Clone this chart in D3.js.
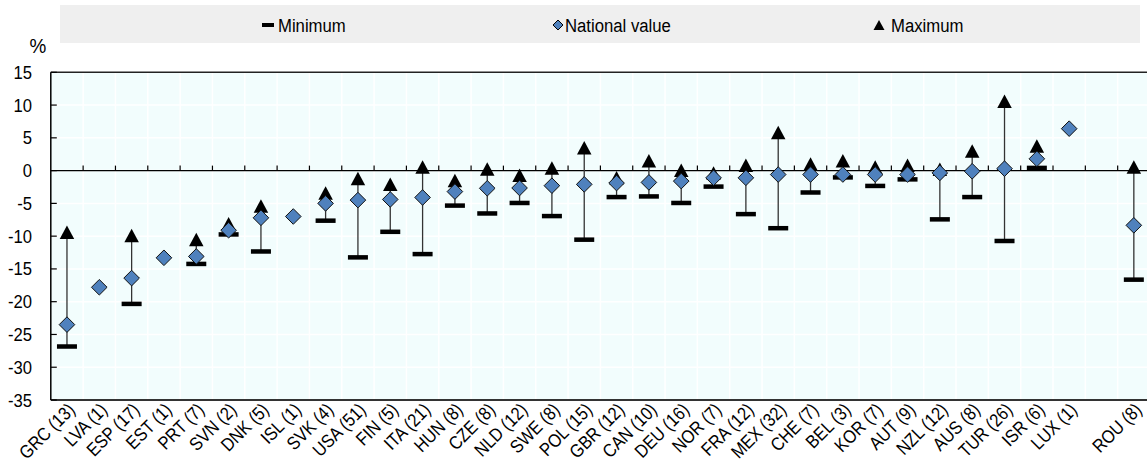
<!DOCTYPE html>
<html><head><meta charset="utf-8">
<script src="https://cdn.jsdelivr.net/npm/d3@7/dist/d3.min.js"></script>
<style>body{margin:0;background:#fff}svg{display:block;font-family:"Liberation Sans",Arial,sans-serif}</style>
</head><body><svg id="c" width="1147" height="467"></svg>
<script>
const categories = ["GRC (13)","LVA (1)","ESP (17)","EST (1)","PRT (7)","SVN (2)","DNK (5)","ISL (1)","SVK (4)","USA (51)","FIN (5)","ITA (21)","HUN (8)","CZE (8)","NLD (12)","SWE (8)","POL (15)","GBR (12)","CAN (10)","DEU (16)","NOR (7)","FRA (12)","MEX (32)","CHE (7)","BEL (3)","KOR (7)","AUT (9)","NZL (12)","AUS (8)","TUR (26)","ISR (6)","LUX (1)","","ROU (8)"];
const minValues = [-26.8,null,-20.3,null,-14.2,-9.7,-12.3,null,-7.6,-13.2,-9.3,-12.7,-5.3,-6.5,-4.9,-6.9,-10.5,-4.0,-3.9,-4.9,-2.4,-6.6,-8.75,-3.3,-1.0,-2.3,-1.3,-7.4,-4.0,-10.7,0.45,null,null,-16.6];
const nationalValues = [-23.5,-17.8,-16.4,-13.3,-13.1,-9.1,-7.2,-7.0,-5.0,-4.5,-4.4,-4.1,-3.2,-2.7,-2.65,-2.3,-2.1,-1.9,-1.8,-1.6,-1.1,-1.1,-0.6,-0.6,-0.6,-0.6,-0.6,-0.35,-0.1,0.3,1.8,6.4,null,-8.35];
const maxValues = [-9.4,null,-9.9,null,-10.5,-8.1,-5.4,null,-3.4,-1.2,-2.1,0.55,-1.5,0.25,-0.7,0.4,3.5,-1.1,1.5,0.05,-0.35,0.8,5.8,1.0,1.5,0.55,0.8,0.2,3.0,10.6,3.75,null,null,0.55];
const yTicks = [15,10,5,0,-5,-10,-15,-20,-25,-30,-35];
const legendLabels = ["Minimum","National value","Maximum"];

const svg = d3.select("#c");
const L = 50.8, R = 1150, T = 72.3, B = 400;
const SX = 0.88;
const x = d3.scaleBand().domain(categories.map((c,i)=>i)).range([L,R]).padding(0);
const y = d3.scaleLinear().domain([-35,15]).range([B,T]);
const cx = i => x(i) + x.bandwidth()/2;
const diamond = s => `M0,${-s}L${s},0L0,${s}L${-s},0Z`;
const tri = (w,h) => `M0,${-h/2}L${w/2},${h/2}L${-w/2},${h/2}Z`;

// legend
svg.append("rect").attr("x",60).attr("y",5).attr("width",1080).attr("height",38).attr("fill","#efefef");
const lg = svg.append("g").attr("font-size",19).attr("fill","#000");
lg.append("rect").attr("x",262).attr("y",23).attr("width",12).attr("height",4).attr("fill","#000");
lg.append("text").attr("transform",`translate(278,31.5) scale(${SX},1)`).text(legendLabels[0]);
lg.append("path").attr("d",diamond(5)).attr("transform","translate(558,25)").attr("fill","#4f81bd").attr("stroke","#000").attr("stroke-width",1);
lg.append("text").attr("transform",`translate(565,31.5) scale(${SX},1)`).text(legendLabels[1]);
lg.append("path").attr("d",tri(11,10)).attr("transform","translate(879,25)").attr("fill","#000");
lg.append("text").attr("transform",`translate(891,31.5) scale(${SX},1)`).text(legendLabels[2]);

// plot bg
svg.append("rect").attr("x",L).attr("y",T).attr("width",R-L).attr("height",B-T).attr("fill","#f2fdfd");
// grid
svg.append("g").selectAll("line").data(yTicks).join("line")
  .attr("x1",L).attr("x2",R).attr("y1",d=>y(d)).attr("y2",d=>y(d)).attr("stroke","#fff").attr("stroke-width",1.5);
svg.append("g").selectAll("line").data(categories.slice(1).map((c,i)=>i+1)).join("line")
  .attr("x1",d=>x(d)).attr("x2",d=>x(d)).attr("y1",T).attr("y2",B).attr("stroke","#fff").attr("stroke-width",1.5);

// axes lines
svg.append("line").attr("x1",L).attr("x2",R).attr("y1",T).attr("y2",T).attr("stroke","#222").attr("stroke-width",1.5);
svg.append("line").attr("x1",L).attr("x2",R).attr("y1",B).attr("y2",B).attr("stroke","#333").attr("stroke-width",2);
svg.append("line").attr("x1",L).attr("x2",L).attr("y1",T).attr("y2",B).attr("stroke","#000").attr("stroke-width",1.5);
// zero line with ticks
svg.append("line").attr("x1",L).attr("x2",R).attr("y1",y(0)).attr("y2",y(0)).attr("stroke","#000").attr("stroke-width",1.2);
svg.append("g").selectAll("line").data(categories.slice(1).map((c,i)=>i+1)).join("line")
  .attr("x1",d=>x(d)).attr("x2",d=>x(d)).attr("y1",y(0)-5).attr("y2",y(0)).attr("stroke","#000").attr("stroke-width",1.2);
// y ticks
svg.append("g").selectAll("line").data(yTicks).join("line")
  .attr("x1",L).attr("x2",L+6).attr("y1",d=>y(d)).attr("y2",d=>y(d)).attr("stroke","#000").attr("stroke-width",1.2);
svg.append("g").attr("font-size",18.5).attr("text-anchor","end").selectAll("text").data(yTicks).join("text")
  .attr("transform",d=>`translate(32,${y(d)+6.5}) scale(0.9,1)`).text(d=>d);
svg.append("text").attr("transform","translate(38,53) scale(0.9,1)").attr("font-size",21).attr("text-anchor","middle").text("%");

// x labels
svg.append("g").attr("font-size",18.5).selectAll("text").data(categories).join("text")
  .attr("text-anchor","end")
  .attr("transform",(d,i)=>`translate(${cx(i)+9},${B+11}) rotate(-45) scale(${SX},1)`)
  .text(d=>d);

// marks
const idx = categories.map((c,i)=>i);
const g = svg.append("g");
g.selectAll("line.err").data(idx.filter(i=>minValues[i]!=null && maxValues[i]!=null)).join("line")
  .attr("x1",cx).attr("x2",cx).attr("y1",i=>y(minValues[i])).attr("y2",i=>y(maxValues[i]))
  .attr("stroke","#333").attr("stroke-width",1.3);
g.selectAll("rect.min").data(idx.filter(i=>minValues[i]!=null)).join("rect")
  .attr("x",i=>cx(i)-10).attr("y",i=>y(minValues[i])-2).attr("width",20).attr("height",4.5).attr("fill","#000");
g.selectAll("path.max").data(idx.filter(i=>maxValues[i]!=null)).join("path")
  .attr("d",tri(14.5,13.5))
  .attr("transform",i=>`translate(${cx(i)},${y(maxValues[i])})`).attr("fill","#000");
g.selectAll("path.nat").data(idx.filter(i=>nationalValues[i]!=null)).join("path")
  .attr("d",diamond(7.8))
  .attr("transform",i=>`translate(${cx(i)},${y(nationalValues[i])})`)
  .attr("fill","#4f81bd").attr("stroke","#111").attr("stroke-width",1);
</script></body></html>
